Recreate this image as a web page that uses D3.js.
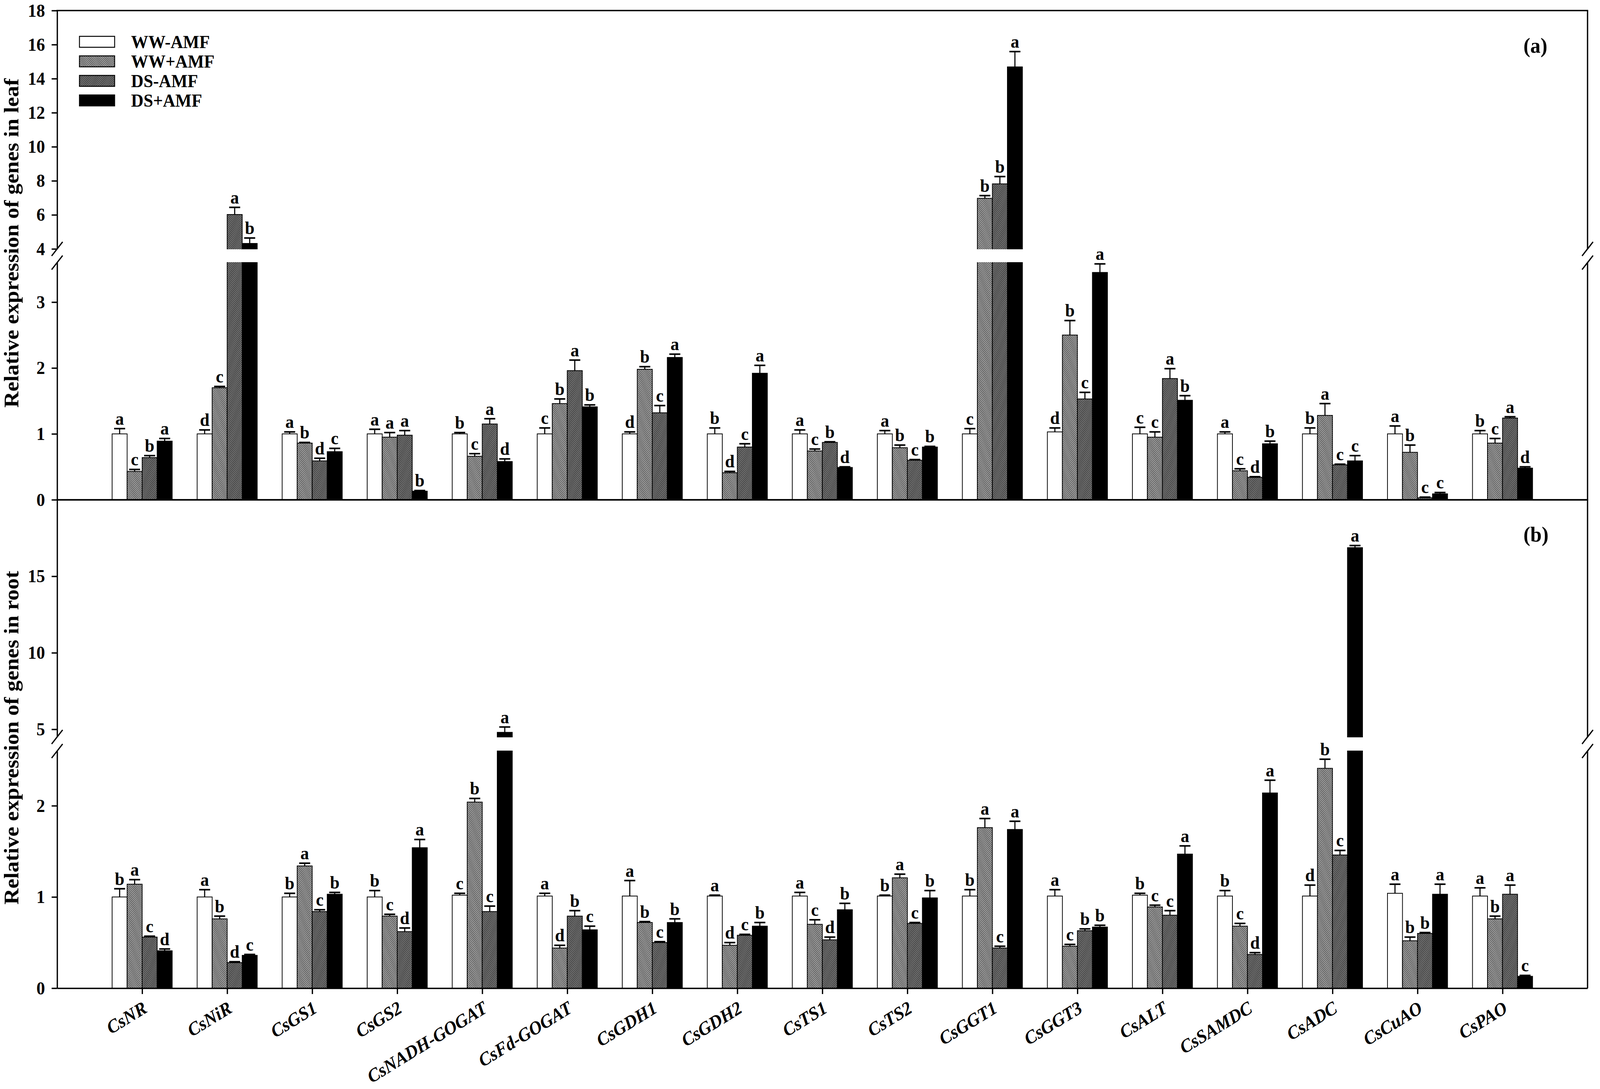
<!DOCTYPE html>
<html>
<head>
<meta charset="utf-8">
<script src="https://cdn.jsdelivr.net/npm/d3@7"></script>
<style>
  html, body { margin: 0; padding: 0; background: #fff; overflow: hidden; }
  svg { display: block; width: 100vw; height: 100vh; }
  text { font-family: 'Liberation Serif', 'Times New Roman', serif; font-weight: bold; fill: #000; }
</style>
</head>
<body>
<svg id="chart"></svg>
<script>
'use strict';

// Categories
const genes = ['CsNR', 'CsNiR', 'CsGS1', 'CsGS2', 'CsNADH-GOGAT', 'CsFd-GOGAT', 'CsGDH1',
  'CsGDH2', 'CsTS1', 'CsTS2', 'CsGGT1', 'CsGGT3', 'CsALT', 'CsSAMDC', 'CsADC', 'CsCuAO', 'CsPAO'];
const treatments = ['WW-AMF', 'WW+AMF', 'DS-AMF', 'DS+AMF'];

// Leaf: means, standard errors, letters
const leafWWnoAMF = [1.00, 1.00, 1.00, 1.00, 1.00, 1.00, 1.00, 1.00, 1.00, 1.00, 1.00, 1.03, 1.00, 1.00, 1.00, 1.00, 1.00];
const leafWWAMF = [0.43, 1.70, 0.86, 0.95, 0.66, 1.46, 1.98, 0.41, 0.74, 0.79, 6.97, 2.50, 0.95, 0.44, 1.28, 0.72, 0.86];
const leafDSnoAMF = [0.64, 6.02, 0.59, 0.98, 1.15, 1.96, 1.32, 0.80, 0.87, 0.60, 7.82, 1.53, 1.84, 0.34, 0.53, 0.03, 1.24];
const leafDSAMF = [0.89, 4.32, 0.73, 0.13, 0.58, 1.41, 2.16, 1.92, 0.49, 0.80, 14.69, 3.45, 1.51, 0.85, 0.59, 0.09, 0.48];

const leafSeWWnoAMF = [0.08, 0.06, 0.03, 0.07, 0.02, 0.09, 0.03, 0.09, 0.06, 0.05, 0.08, 0.06, 0.10, 0.03, 0.09, 0.12, 0.05];
const leafSeWWAMF = [0.03, 0.02, 0.01, 0.07, 0.04, 0.07, 0.04, 0.02, 0.03, 0.04, 0.16, 0.22, 0.08, 0.03, 0.18, 0.11, 0.07];
const leafSeDSnoAMF = [0.03, 0.42, 0.04, 0.07, 0.08, 0.16, 0.11, 0.05, 0.01, 0.01, 0.43, 0.10, 0.15, 0.01, 0.01, 0.01, 0.02];
const leafSeDSAMF = [0.04, 0.32, 0.05, 0.01, 0.04, 0.03, 0.05, 0.12, 0.01, 0.01, 0.90, 0.13, 0.07, 0.04, 0.08, 0.02, 0.02];

const leafLetWWnoAMF = ['a', 'd', 'a', 'a', 'b', 'c', 'd', 'b', 'a', 'a', 'c', 'd', 'c', 'a', 'b', 'a', 'b'];
const leafLetWWAMF = ['c', 'c', 'b', 'a', 'c', 'b', 'b', 'd', 'c', 'b', 'b', 'b', 'c', 'c', 'a', 'b', 'c'];
const leafLetDSnoAMF = ['b', 'a', 'd', 'a', 'a', 'a', 'c', 'c', 'b', 'c', 'b', 'c', 'a', 'd', 'c', 'c', 'a'];
const leafLetDSAMF = ['a', 'b', 'c', 'b', 'd', 'b', 'a', 'a', 'd', 'b', 'a', 'a', 'b', 'b', 'c', 'c', 'd'];

// Root: means, standard errors, letters
const rootWWnoAMF = [1.00, 1.00, 1.00, 1.00, 1.02, 1.01, 1.01, 1.01, 1.01, 1.01, 1.01, 1.01, 1.02, 1.01, 1.01, 1.04, 1.01];
const rootWWAMF = [1.14, 0.76, 1.34, 0.79, 2.04, 0.44, 0.72, 0.47, 0.70, 1.21, 1.76, 0.46, 0.89, 0.68, 2.41, 0.52, 0.76];
const rootDSnoAMF = [0.56, 0.28, 0.84, 0.62, 0.84, 0.79, 0.50, 0.58, 0.53, 0.71, 0.44, 0.63, 0.80, 0.37, 1.46, 0.60, 1.03];
const rootDSAMF = [0.41, 0.36, 1.03, 1.54, 4.80, 0.64, 0.72, 0.68, 0.86, 0.99, 1.74, 0.67, 1.47, 2.14, 16.87, 1.03, 0.13];

const rootSeWWnoAMF = [0.09, 0.08, 0.04, 0.07, 0.02, 0.03, 0.17, 0.01, 0.04, 0.01, 0.07, 0.07, 0.02, 0.06, 0.12, 0.10, 0.09];
const rootSeWWAMF = [0.05, 0.03, 0.03, 0.02, 0.04, 0.03, 0.01, 0.03, 0.05, 0.04, 0.10, 0.02, 0.02, 0.03, 0.10, 0.04, 0.03];
const rootSeDSnoAMF = [0.01, 0.01, 0.02, 0.04, 0.06, 0.06, 0.01, 0.01, 0.03, 0.01, 0.02, 0.02, 0.05, 0.02, 0.05, 0.01, 0.10];
const rootSeDSAMF = [0.02, 0.01, 0.02, 0.09, 0.35, 0.04, 0.04, 0.04, 0.07, 0.08, 0.09, 0.02, 0.09, 0.14, 0.14, 0.11, 0.01];

const rootLetWWnoAMF = ['b', 'a', 'b', 'b', 'c', 'a', 'a', 'a', 'a', 'b', 'b', 'a', 'b', 'b', 'd', 'a', 'a'];
const rootLetWWAMF = ['a', 'b', 'a', 'c', 'b', 'd', 'b', 'd', 'c', 'a', 'a', 'c', 'c', 'c', 'b', 'b', 'b'];
const rootLetDSnoAMF = ['c', 'd', 'c', 'd', 'c', 'b', 'c', 'c', 'd', 'c', 'c', 'b', 'c', 'd', 'c', 'b', 'a'];
const rootLetDSAMF = ['d', 'c', 'b', 'a', 'a', 'c', 'b', 'b', 'b', 'b', 'a', 'b', 'a', 'a', 'a', 'a', 'c'];

// Tick labels
const leafTicksLow = [0, 1, 2, 3];
const leafTicksHigh = [4, 6, 8, 10, 12, 14, 16, 18];
const rootTicksLow = [0, 1, 2];
const rootTicksHigh = [5, 10, 15];

// Layout
const WIDTH = 4369;
const HEIGHT = 2787;
const X0 = 156;
const X1 = 4335;
const AXIS_W = 3.5;
const FONT_TICK = 47;

const fills = ['#ffffff', 'url(#hatch-ww)', 'url(#hatch-ds)', '#000000'];

const svg = d3.select('#chart')
  .attr('viewBox', [0, 0, WIDTH, HEIGHT].join(' '))
  .attr('preserveAspectRatio', 'none');

const defs = svg.append('defs');

function hatch (id, angle, bg) {
  const size = 3.6;
  const p = defs.append('pattern')
    .attr('id', id)
    .attr('patternUnits', 'userSpaceOnUse')
    .attr('width', size)
    .attr('height', size)
    .attr('patternTransform', 'rotate(' + angle + ')');
  p.append('rect')
    .attr('width', size)
    .attr('height', size)
    .attr('fill', bg);
  p.append('line')
    .attr('x1', 0.8).attr('x2', 0.8)
    .attr('y1', -1).attr('y2', size + 1)
    .attr('stroke', '#111')
    .attr('stroke-width', 1.4);
}

hatch('hatch-ww', 45, '#c8c8c8');
hatch('hatch-ds', -45, '#8c8c8c');

const x = d3.scalePoint()
  .domain(genes)
  .range([X0, X1])
  .padding(1);

const xSub = d3.scaleBand()
  .domain(treatments)
  .range([-82, 82]);

function brokenScale (lowDomain, lowRange, highDomain, highRange) {
  const low = d3.scaleLinear().domain(lowDomain).range(lowRange);
  const high = d3.scaleLinear().domain(highDomain).range(highRange);
  const y = v => v <= lowDomain[1] ? low(v) : high(v);
  y.low = low;
  y.high = high;
  return y;
}

function buildRows (means, ses, letters) {
  const rows = [];
  genes.forEach((gene, i) => {
    treatments.forEach((t, j) => {
      rows.push({ gene: gene, treatment: t, idx: j, mean: means[j][i], se: ses[j][i], letter: letters[j][i] });
    });
  });
  return rows;
}

const panels = [
  {
    name: 'leaf',
    title: 'Relative expression of genes in leaf',
    tag: '(a)',
    tagY: 135,
    titleY: 622,
    top: 27,
    y: brokenScale([0, 3.6], [1279, 672], [4, 18], [637, 27]),
    ticksLow: leafTicksLow,
    ticksHigh: leafTicksHigh,
    xTicks: false,
    rows: buildRows(
      [leafWWnoAMF, leafWWAMF, leafDSnoAMF, leafDSAMF],
      [leafSeWWnoAMF, leafSeWWAMF, leafSeDSnoAMF, leafSeDSAMF],
      [leafLetWWnoAMF, leafLetWWAMF, leafLetDSnoAMF, leafLetDSAMF])
  },
  {
    name: 'root',
    title: 'Relative expression of genes in root',
    tag: '(b)',
    tagY: 1386,
    titleY: 1888,
    top: 1279,
    y: brokenScale([0, 2.6], [2529, 1922], [4.5, 20], [1886, 1279]),
    ticksLow: rootTicksLow,
    ticksHigh: rootTicksHigh,
    xTicks: true,
    rows: buildRows(
      [rootWWnoAMF, rootWWAMF, rootDSnoAMF, rootDSAMF],
      [rootSeWWnoAMF, rootSeWWAMF, rootSeDSnoAMF, rootSeDSAMF],
      [rootLetWWnoAMF, rootLetWWAMF, rootLetDSnoAMF, rootLetDSAMF])
  }
];

function styleAxis (sel) {
  sel.select('.domain')
    .attr('stroke', '#000')
    .attr('stroke-width', AXIS_W);
  sel.selectAll('.tick line')
    .attr('stroke', '#000')
    .attr('stroke-width', AXIS_W);
  sel.selectAll('.tick text')
    .attr('font-size', FONT_TICK);
  sel.attr('font-family', null)
    .attr('font-size', null);
}

function drawPanel (panel) {
  const y = panel.y;
  const g = svg.append('g').attr('class', 'panel ' + panel.name);
  const base = y(0);

  // Bars
  g.append('g').attr('class', 'bars')
    .selectAll('rect')
    .data(panel.rows)
    .enter()
    .append('rect')
      .attr('x', d => x(d.gene) + xSub(d.treatment))
      .attr('y', d => y(d.mean))
      .attr('width', xSub.bandwidth())
      .attr('height', d => base - y(d.mean))
      .attr('fill', d => fills[d.idx])
      .attr('stroke', '#000')
      .attr('stroke-width', 2);

  // Gap of the broken axis
  const gapTop = y.high.range()[0];
  const gapBottom = y.low.range()[1];
  g.append('rect')
    .attr('x', X0 - 3)
    .attr('y', gapTop + 1)
    .attr('width', X1 - X0 + 6)
    .attr('height', gapBottom - gapTop - 2)
    .attr('fill', '#fff');

  // Error bars
  const err = g.append('g').attr('class', 'errors')
    .selectAll('g')
    .data(panel.rows)
    .enter()
    .append('g')
      .attr('transform', d => 'translate(' + (x(d.gene) + xSub(d.treatment) + xSub.bandwidth() / 2) + ',0)');

  err.append('line')
    .attr('y1', d => y(d.mean))
    .attr('y2', d => y(d.mean + d.se))
    .attr('stroke', '#000')
    .attr('stroke-width', 3);

  err.append('line')
    .attr('x1', -15)
    .attr('x2', 15)
    .attr('y1', d => y(d.mean + d.se))
    .attr('y2', d => y(d.mean + d.se))
    .attr('stroke', '#000')
    .attr('stroke-width', 4);

  err.append('text')
    .attr('y', d => y(d.mean + d.se) - 10)
    .attr('text-anchor', 'middle')
    .attr('font-size', 47)
    .text(d => d.letter);

  // Left axis in two pieces
  const axLow = g.append('g')
    .attr('transform', 'translate(' + X0 + ',0)')
    .call(d3.axisLeft(y.low).tickValues(panel.ticksLow).tickSize(15).tickSizeOuter(0).tickPadding(18).tickFormat(d3.format('d')));
  styleAxis(axLow);

  const axHigh = g.append('g')
    .attr('transform', 'translate(' + X0 + ',0)')
    .call(d3.axisLeft(y.high).tickValues(panel.ticksHigh).tickSize(15).tickSizeOuter(0).tickPadding(18).tickFormat(d3.format('d')));
  styleAxis(axHigh);

  // Right frame in two pieces
  [y.low.range(), y.high.range()].forEach(r => {
    g.append('line')
      .attr('x1', X1).attr('x2', X1)
      .attr('y1', r[0]).attr('y2', r[1])
      .attr('stroke', '#000')
      .attr('stroke-width', AXIS_W);
  });

  // Break marks
  [X0, X1].forEach(bx => {
    [gapTop, gapBottom].forEach(by => {
      g.append('line')
        .attr('x1', bx - 15).attr('y1', by + 18)
        .attr('x2', bx + 15).attr('y2', by - 18)
        .attr('stroke', '#000')
        .attr('stroke-width', AXIS_W);
    });
  });

  // Top frame line
  g.append('line')
    .attr('x1', X0 - AXIS_W / 2).attr('x2', X1 + AXIS_W / 2)
    .attr('y1', panel.top).attr('y2', panel.top)
    .attr('stroke', '#000')
    .attr('stroke-width', AXIS_W);

  // Bottom axis
  const xAxis = g.append('g')
    .attr('transform', 'translate(0,' + base + ')')
    .call(d3.axisBottom(x).tickSize(panel.xTicks ? 15 : 0).tickSizeOuter(0));
  styleAxis(xAxis);
  if (panel.xTicks) {
    xAxis.selectAll('.tick text')
      .attr('x', 0)
      .attr('y', 0)
      .attr('dy', 0)
      .attr('text-anchor', 'end')
      .attr('font-style', 'italic')
      .attr('font-size', 48)
      .attr('transform', 'translate(16,60) rotate(-30)');
  } else {
    xAxis.selectAll('.tick').remove();
  }

  // Axis title
  g.append('text')
    .attr('transform', 'translate(50,' + panel.titleY + ') rotate(-90)')
    .attr('text-anchor', 'middle')
    .attr('font-size', 57)
    .text(panel.title);

  // Panel tag
  g.append('text')
    .attr('x', 4160)
    .attr('y', panel.tagY)
    .attr('font-size', 56)
    .text(panel.tag);
}

panels.forEach(drawPanel);

// Legend
const legend = svg.append('g')
  .attr('class', 'legend')
  .attr('transform', 'translate(217,93)');

const item = legend.selectAll('g')
  .data(treatments)
  .enter()
  .append('g')
    .attr('transform', (d, i) => 'translate(0,' + i * 50 + ')');

item.append('rect')
  .attr('width', 96)
  .attr('height', 28)
  .attr('fill', (d, i) => fills[i])
  .attr('stroke', '#000')
  .attr('stroke-width', 2.5);

item.append('text')
  .attr('x', 141)
  .attr('y', 30)
  .attr('font-size', 47)
  .text(d => d);
</script>
</body>
</html>
